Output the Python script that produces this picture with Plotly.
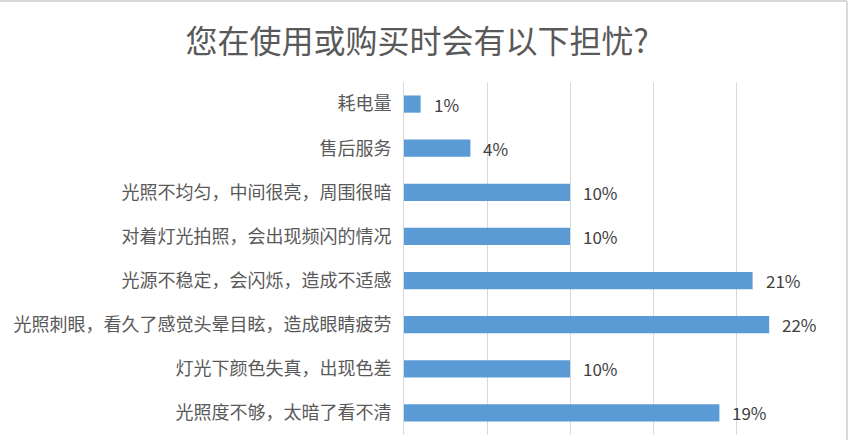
import plotly.graph_objects as go

# =========================================================
# Data
# =========================================================
categories = [
    "耗电量",
    "售后服务",
    "光照不均匀，中间很亮，周围很暗",
    "对着灯光拍照，会出现频闪的情况",
    "光源不稳定，会闪烁，造成不适感",
    "光照刺眼，看久了感觉头晕目眩，造成眼睛疲劳",
    "灯光下颜色失真，出现色差",
    "光照度不够，太暗了看不清",
]
shares = [1, 4, 10, 10, 21, 22, 10, 19]
share_labels = ["1%", "4%", "10%", "10%", "21%", "22%", "10%", "19%"]

title_text = "您在使用或购买时会有以下担忧?"

# =========================================================
# Layout constants
# =========================================================
W, H = 851, 440
M_L, M_R, M_T, M_B = 404, 32, 82, 5
PLOT_W = W - M_L - M_R
PLOT_H = H - M_T - M_B

FONT = "Noto Sans CJK SC"
BAR_COLOR = "#5b9bd5"
GRID_COLOR = "#d9d9d9"

fig = go.Figure()

fig.add_trace(go.Bar(
    x=shares,
    y=categories,
    orientation="h",
    marker=dict(color=BAR_COLOR, line=dict(width=0)),
    hoverinfo="skip",
))

# value labels to the right of each bar
for cat, val, lab in zip(categories, shares, share_labels):
    fig.add_annotation(
        x=val, y=cat, text=lab,
        xanchor="left", yanchor="middle",
        xshift=11, showarrow=False,
        font=dict(family=FONT, size=17, color="#404040"),
    )

# light frame along top and right edge of the picture
frame_x = (W - 4 - M_L) / PLOT_W
frame_y = (H - M_B - 1) / PLOT_H
fig.add_shape(type="line", xref="paper", yref="paper",
              x0=-M_L / PLOT_W, x1=frame_x, y0=frame_y, y1=frame_y,
              line=dict(color=GRID_COLOR, width=2))
fig.add_shape(type="line", xref="paper", yref="paper",
              x0=frame_x, x1=frame_x, y0=-M_B / PLOT_H, y1=frame_y,
              line=dict(color=GRID_COLOR, width=2))

fig.update_layout(
    width=W,
    height=H,
    margin=dict(l=M_L, r=M_R, t=M_T, b=M_B),
    paper_bgcolor="white",
    plot_bgcolor="white",
    showlegend=False,
    bargap=0.61,
    title=dict(
        text=title_text,
        x=0.49, xanchor="center",
        y=1 - 42 / H, yanchor="middle",
        font=dict(family=FONT, size=32, color="#595959"),
    ),
    font=dict(family=FONT),
)

fig.update_xaxes(
    range=[0, 25],
    dtick=5,
    showticklabels=False,
    showgrid=True,
    gridcolor=GRID_COLOR,
    gridwidth=1,
    zeroline=False,
    showline=False,
    fixedrange=True,
)

fig.update_yaxes(
    autorange="reversed",
    showline=True,
    linecolor=GRID_COLOR,
    linewidth=1,
    ticks="",
    ticklabelstandoff=8,
    tickfont=dict(family=FONT, size=18, color="#595959"),
    fixedrange=True,
)

fig.write_html(
    "out.html",
    config={"displayModeBar": False},
    post_script="document.body.style.margin='0';document.body.style.overflow='hidden';",
)
